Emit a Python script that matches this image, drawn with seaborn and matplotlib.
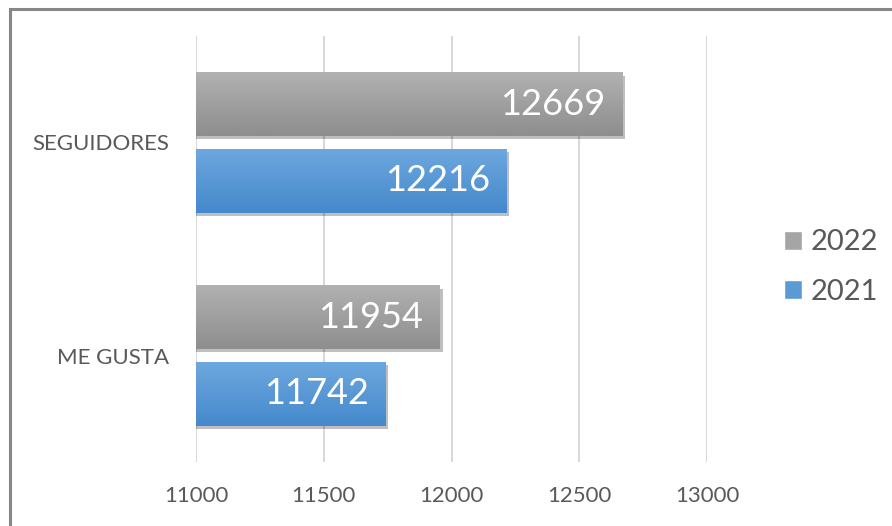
import numpy as np
import pandas as pd
import matplotlib
matplotlib.use("Agg")
import matplotlib.pyplot as plt
import matplotlib.patheffects as pe
from matplotlib.colors import LinearSegmentedColormap
from matplotlib.patches import Rectangle
import seaborn as sns

# Data
categories = ["SEGUIDORES", "ME GUSTA"]
years = ["2022", "2021"]
values_2022 = [12669, 11954]
values_2021 = [12216, 11742]
x_ticks = [11000, 11500, 12000, 12500, 13000]

df = pd.DataFrame({
    "Categoria": categories * 2,
    "Año": [years[0]] * len(categories) + [years[1]] * len(categories),
    "Valor": values_2022 + values_2021,
})

GRAY_TOP, GRAY_BOT = "#b1b1b1", "#8e8e8e"
BLUE_TOP, BLUE_BOT = "#6da7de", "#4589cc"
TEXT = "#595959"

sns.set_theme(style="white")
plt.rcParams["font.family"] = ["Lato", "DejaVu Sans"]

fig = plt.figure(figsize=(8.92, 5.26), dpi=100)
ax = fig.add_axes([196 / 892, 1 - 462 / 526, (707 - 196) / 892, (462 - 36) / 526])

sns.barplot(data=df, y="Categoria", x="Valor", hue="Año", order=categories,
            hue_order=years, palette=["#a5a5a5", "#5b9bd5"], orient="h",
            width=0.72, gap=0.17, linewidth=0, ax=ax, zorder=3)

ax.set_xlim(11000, 13000)
ylim = ax.get_ylim()

# gradient fill + soft shadow on every bar, plus white value labels
tops = {years[0]: (GRAY_TOP, GRAY_BOT), years[1]: (BLUE_TOP, BLUE_BOT)}
grad = np.linspace(0, 1, 64).reshape(-1, 1)
for container, year in zip(ax.containers, years):
    cmap = LinearSegmentedColormap.from_list(year, list(tops[year]))
    for bar in container:
        x0, y0 = bar.get_x(), bar.get_y()
        w, h = bar.get_width(), bar.get_height()
        bar.set_path_effects([pe.SimplePatchShadow(offset=(2, -2.5), alpha=0.25,
                                                   shadow_rgbFace="black"),
                              pe.Normal()])
        ax.imshow(grad, cmap=cmap, aspect="auto", origin="upper",
                  extent=(x0, x0 + w, y0 + h, y0), zorder=4)
        ax.annotate(f"{int(w)}", xy=(x0 + w, y0 + h / 2), xytext=(-12, 0),
                    textcoords="offset points", ha="right", va="center",
                    color="white", fontsize=26, zorder=5)

ax.set_xlim(11000, 13000)
ax.set_ylim(ylim)

ax.set_xticks(x_ticks)
ax.set_xticklabels([str(t) for t in x_ticks])
ax.grid(axis="x", color="#d9d9d9", linewidth=1.5, zorder=0)
ax.grid(axis="y", visible=False)
for s in ax.spines.values():
    s.set_visible(False)
ax.tick_params(axis="x", length=0, pad=17, labelsize=16, labelcolor=TEXT)
ax.tick_params(axis="y", length=0, pad=19, labelsize=16, labelcolor=TEXT)
ax.set_xlabel("")
ax.set_ylabel("")

# legend on the right
handles = [Rectangle((0, 0), 1, 1, facecolor=c) for c in ["#a5a5a5", "#5b9bd5"]]
ax.get_legend().remove()
fig.legend(handles, years, loc="center left",
           bbox_to_anchor=(784 / 892, 1 - 267 / 526), frameon=False,
           fontsize=21, labelcolor=TEXT, handlelength=0.62, handleheight=0.62,
           handletextpad=0.3, labelspacing=0.8, borderpad=0, borderaxespad=0)

# outer chart frame (left and top visible)
fig.add_artist(Rectangle((10 / 892, -0.05), 1.1, 1 - 9 / 526 + 0.05,
                         transform=fig.transFigure, fill=False,
                         edgecolor="#878787", linewidth=2.2))

fig.savefig("out.png", dpi=100)
